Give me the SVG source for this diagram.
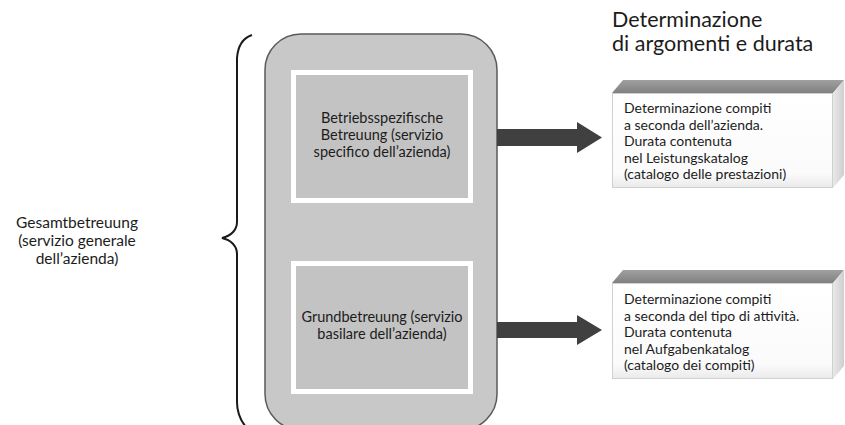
<svg xmlns="http://www.w3.org/2000/svg" width="845" height="425" viewBox="0 0 845 425">
<style>
text{font-family:Lato,"Open Sans","Liberation Sans",sans-serif;fill:#1c1c1c}
.lbl{font-size:14.5px}
.res{font-size:14px}
.big{font-size:21.5px}
.side{font-size:15.5px}
.inner{fill:#c3c3c3;stroke:#fff;stroke-width:5}
.arrow{fill:#404040}
.front{fill:url(#fg);stroke:#d0d0d0;stroke-width:1}
.top{fill:url(#tg)}
.sidef{fill:url(#sg)}
</style>
<defs>
<linearGradient id="tg" x1="0" y1="0" x2="0" y2="1"><stop offset="0" stop-color="#a0a0a0"/><stop offset="1" stop-color="#808080"/></linearGradient>
<linearGradient id="sg" x1="0" y1="0" x2="1" y2="0"><stop offset="0" stop-color="#e8e8e8"/><stop offset="1" stop-color="#cfcfcf"/></linearGradient>
<linearGradient id="fg" x1="0" y1="0" x2="0" y2="1"><stop offset="0" stop-color="#ffffff"/><stop offset="0.85" stop-color="#fbfbfb"/><stop offset="1" stop-color="#eaeaea"/></linearGradient>
</defs>

<g id="label-gesamt">
<text class="side" text-anchor="middle" x="77" y="228">Gesamtbetreuung</text>
<text class="side" text-anchor="middle" x="77" y="246">(servizio generale</text>
<text class="side" text-anchor="middle" x="77" y="264">dell’azienda)</text>
</g>

<g id="brace">
<path d="M252,35 C243,38 238,45 237,58 L237,222 C237,230 231,236 222,238 C231,240 237,246 237,254 L237,402 C237,414 241,421 246,427" fill="none" stroke="#1a1a1a" stroke-width="2"/>
</g>

<g id="container">
<rect x="265" y="34" width="232" height="396" rx="36" ry="36" fill="#c8c8c8" stroke="#5a5a5a" stroke-width="1.5"/>
</g>

<g id="box-betriebs">
<rect class="inner" x="293.5" y="72.5" width="177" height="128"/>
<text class="lbl" text-anchor="middle" x="382" y="123">Betriebsspezifische</text>
<text class="lbl" text-anchor="middle" x="382" y="140">Betreuung (servizio</text>
<text class="lbl" text-anchor="middle" x="382" y="157">specifico dell’azienda)</text>
</g>

<g id="box-grund">
<rect class="inner" x="293.5" y="263.5" width="177" height="128"/>
<text class="lbl" text-anchor="middle" x="382" y="322">Grundbetreuung (servizio</text>
<text class="lbl" text-anchor="middle" x="382" y="339">basilare dell’azienda)</text>
</g>

<g id="title">
<text class="big" x="612" y="27">Determinazione</text>
<text class="big" x="612" y="51">di argomenti e durata</text>
</g>

<g id="result-1">
<polygon class="top" points="612,93 833,93 844,80 623,80"/>
<polygon class="sidef" points="833,93 844,80 844,175 833,188"/>
<rect class="front" x="612.5" y="93.5" width="220" height="94"/>
<text class="res" x="624" y="113">Determinazione compiti</text>
<text class="res" x="624" y="129.5">a seconda dell’azienda.</text>
<text class="res" x="624" y="146">Durata contenuta</text>
<text class="res" x="624" y="162.5">nel Leistungskatalog</text>
<text class="res" x="624" y="179">(catalogo delle prestazioni)</text>
</g>

<g id="result-2">
<polygon class="top" points="612,283 833,283 844,270 623,270"/>
<polygon class="sidef" points="833,283 844,270 844,366 833,379"/>
<rect class="front" x="612.5" y="283.5" width="220" height="95"/>
<text class="res" x="624" y="304">Determinazione compiti</text>
<text class="res" x="624" y="320.5">a seconda del tipo di attività.</text>
<text class="res" x="624" y="337">Durata contenuta</text>
<text class="res" x="624" y="353.5">nel Aufgabenkatalog</text>
<text class="res" x="624" y="370">(catalogo dei compiti)</text>
</g>

<g id="connectors">
<polygon class="arrow" points="497,129 577,129 577,122 602,137.5 577,153 577,146 497,146"/>
<polygon class="arrow" points="497,322 577,322 577,315 602,330 577,345 577,338 497,338"/>
</g>
</svg>
